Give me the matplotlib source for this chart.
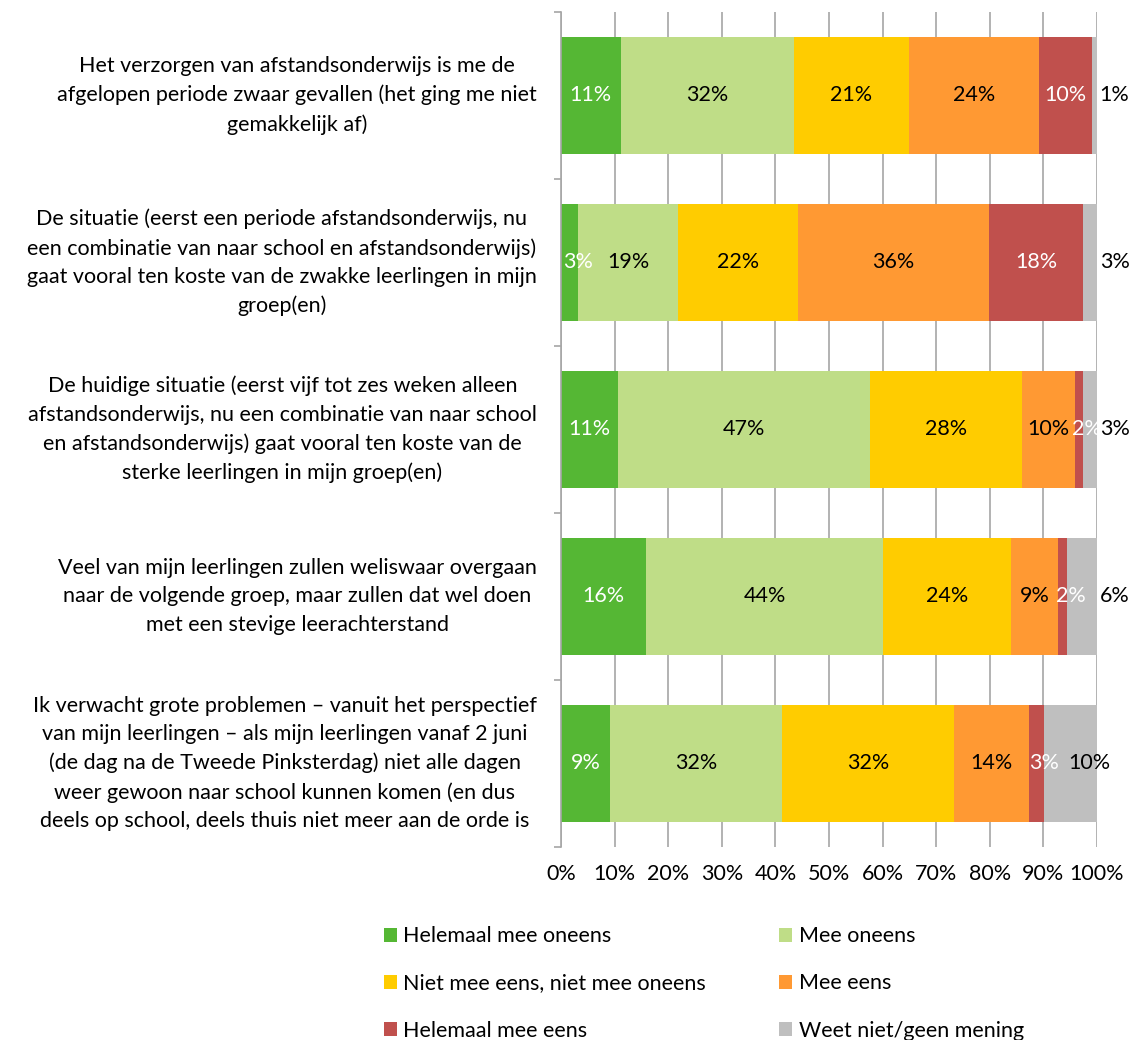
import matplotlib
matplotlib.use("Agg")
import matplotlib.pyplot as plt
from matplotlib.patches import Patch

plt.rcParams["font.family"] = ["Lato", "DejaVu Sans"]

statements = [
    "Het verzorgen van afstandsonderwijs is me de\nafgelopen periode zwaar gevallen (het ging me niet\ngemakkelijk af)",
    "De situatie (eerst een periode afstandsonderwijs, nu\neen combinatie van naar school en afstandsonderwijs)\ngaat vooral ten koste van de zwakke leerlingen in mijn\ngroep(en)",
    "De huidige situatie (eerst vijf tot zes weken alleen\nafstandsonderwijs, nu een combinatie van naar school\nen afstandsonderwijs) gaat vooral ten koste van de\nsterke leerlingen in mijn groep(en)",
    "Veel van mijn leerlingen zullen weliswaar overgaan\nnaar de volgende groep, maar zullen dat wel doen\nmet een stevige leerachterstand",
    "Ik verwacht grote problemen \u2013 vanuit het perspectief\nvan mijn leerlingen \u2013 als mijn leerlingen vanaf 2 juni\n(de dag na de Tweede Pinksterdag) niet alle dagen\nweer gewoon naar school kunnen komen (en dus\ndeels op school, deels thuis niet meer aan de orde is",
]

series_names = [
    "Helemaal mee oneens",
    "Mee oneens",
    "Niet mee eens, niet mee oneens",
    "Mee eens",
    "Helemaal mee eens",
    "Weet niet/geen mening",
]

helemaal_oneens = [11.1, 3.2, 10.6, 15.9, 9.2]
oneens = [32.4, 18.7, 47.0, 44.2, 32.1]
neutraal = [21.4, 22.3, 28.4, 23.9, 32.0]
eens = [24.2, 35.6, 9.8, 8.8, 14.0]
helemaal_eens = [10.0, 17.6, 1.6, 1.6, 2.8]
weet_niet = [0.9, 2.6, 2.6, 5.6, 9.9]

series = [helemaal_oneens, oneens, neutraal, eens, helemaal_eens, weet_niet]
colors = ["#55B734", "#BFDD87", "#FFCC00", "#FF9933", "#C0504D", "#BFBFBF"]
label_colors = ["white", "black", "black", "black", "white", "black"]

FS = 15.5

fig = plt.figure(figsize=(11.32, 10.40), dpi=100)
ax = fig.add_axes([0.4956, 0.1856, 0.4735, 0.8029])

n = len(statements)
ypos = list(range(n))
left = [0.0] * n
for k, (vals, col) in enumerate(zip(series, colors)):
    ax.barh(ypos, vals, left=left, height=0.70, color=col, zorder=2)
    for i, v in enumerate(vals):
        txt = f"{v:.0f}%"
        if k == len(series) - 1:
            if v < 8:
                ax.text(100.5, i, txt, ha="left", va="center", fontsize=FS,
                        color=label_colors[k], zorder=3, clip_on=False)
            else:
                ax.text(left[i] + v * 0.85, i, txt, ha="center", va="center",
                        fontsize=FS, color=label_colors[k], zorder=3, clip_on=False)
        else:
            # tiny segments: label sits a bit to the right, like in the original
            x = left[i] + v / 2 + (1.5 if v < 4 else 0)
            ax.text(x, i, txt, ha="center", va="center", fontsize=FS,
                    color=label_colors[k], zorder=3)
        left[i] += v

ax.set_xlim(0, 100)
ax.set_ylim(n - 0.5, -0.5)
ax.set_xticks(range(0, 101, 10))
ax.set_xticklabels([f"{t}%" for t in range(0, 101, 10)], fontsize=FS)
ax.tick_params(axis="x", length=0, pad=12)
ax.xaxis.grid(True, color="#A6A6A6", linewidth=1.2, zorder=0)
ax.set_axisbelow(True)

ax.set_yticks([y - 0.5 for y in range(n + 1)])
ax.set_yticklabels([])
ax.tick_params(axis="y", length=5, color="#A6A6A6", width=1.2, direction="out")
for y, s in zip(ypos, statements):
    ax.text(-0.045, y, s, transform=ax.get_yaxis_transform(), ha="right", va="center",
            multialignment="center", fontsize=FS, linespacing=1.52)

for side in ["top", "right", "bottom"]:
    ax.spines[side].set_visible(False)
ax.spines["left"].set_color("#A6A6A6")
ax.spines["left"].set_linewidth(1.2)

# legend fills column-wise, so reorder to get the reference's row-wise layout
order = [0, 2, 4, 1, 3, 5]
handles = [Patch(facecolor=colors[i], edgecolor="none") for i in order]
labels = [series_names[i] for i in order]
fig.legend(handles, labels, loc="upper left", bbox_to_anchor=(0.322, 0.128),
           ncol=2, frameon=False, fontsize=FS, handlelength=0.6, handleheight=0.6,
           handletextpad=0.3, columnspacing=3.4, labelspacing=1.26)

fig.savefig("out.png", dpi=100)
